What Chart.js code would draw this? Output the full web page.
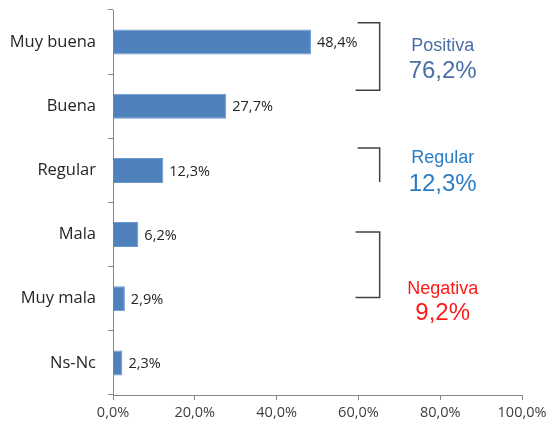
<!DOCTYPE html>
<html>
<head>
<meta charset="utf-8">
<script src="https://cdn.jsdelivr.net/npm/chart.js@4"></script>
<style>
  html, body { margin: 0; padding: 0; background: #fff; }
  #wrap { width: 546px; height: 423px; }
</style>
</head>
<body>
<div id="wrap"><canvas id="chart" width="546" height="423"></canvas></div>
<script>
const categories = ['Muy buena', 'Buena', 'Regular', 'Mala', 'Muy mala', 'Ns-Nc'];
const values = [48.4, 27.7, 12.3, 6.2, 2.9, 2.3];
const xTicks = [0, 20, 40, 60, 80, 100];
// grupos: etiqueta, total, color
const groupLabels = ['Positiva', 'Regular', 'Negativa'];
const groupTotals = ['76,2%', '12,3%', '9,2%'];
const groupColors = ['#4a6fa8', '#2a7cc7', '#ff1a1a'];

const fmt = v => v.toFixed(1).replace('.', ',') + '%';

// etiquetas de valor al final de cada barra
const valueLabels = {
  id: 'valueLabels',
  afterDatasetsDraw(chart) {
    const ctx = chart.ctx;
    const meta = chart.getDatasetMeta(0);
    ctx.save();
    ctx.font = '14.5px "Open Sans", sans-serif';
    ctx.fillStyle = '#262626';
    ctx.textBaseline = 'middle';
    ctx.textAlign = 'left';
    meta.data.forEach((bar, i) => {
      ctx.fillText(fmt(values[i]), bar.x + 6, bar.y + 1);
    });
    ctx.restore();
  }
};

// llaves y totales de cada grupo
const groupBrackets = {
  id: 'groupBrackets',
  afterDraw(chart) {
    const ctx = chart.ctx;
    const x = chart.scales.x;
    const y = chart.scales.y;
    const xv = x.getPixelForValue(65.2);
    const xs = x.getPixelForValue(59.8);
    const xt = x.getPixelForValue(80.6);
    ctx.save();
    ctx.strokeStyle = '#404040';
    ctx.lineWidth = 1.5;
    // Positiva
    let t = y.getPixelForValue(-0.3), b = y.getPixelForValue(0.75);
    ctx.beginPath();
    ctx.moveTo(xs, t); ctx.lineTo(xv, t); ctx.lineTo(xv, b); ctx.lineTo(xs - 2, b);
    ctx.stroke();
    // Regular
    t = y.getPixelForValue(1.65); b = y.getPixelForValue(2.18);
    ctx.beginPath();
    ctx.moveTo(xs, t); ctx.lineTo(xv, t); ctx.lineTo(xv, b);
    ctx.stroke();
    // Negativa
    t = y.getPixelForValue(2.96); b = y.getPixelForValue(3.98);
    ctx.beginPath();
    ctx.moveTo(xs - 2, t); ctx.lineTo(xv, t); ctx.lineTo(xv, b); ctx.lineTo(xs - 2, b);
    ctx.stroke();

    ctx.textAlign = 'center';
    ctx.textBaseline = 'middle';
    const rows = [[0.06, 0.46], [1.81, 2.22], [3.85, 4.23]];
    rows.forEach((r, i) => {
      ctx.fillStyle = groupColors[i];
      ctx.font = '18px "Liberation Sans", Arial, sans-serif';
      ctx.fillText(groupLabels[i], xt, y.getPixelForValue(r[0]));
      ctx.font = '24px "Liberation Sans", Arial, sans-serif';
      ctx.fillText(groupTotals[i], xt, y.getPixelForValue(r[1]));
    });
    ctx.restore();
  }
};

new Chart(document.getElementById('chart'), {
  type: 'bar',
  data: {
    labels: categories,
    datasets: [{
      data: values,
      backgroundColor: '#4f81bd',
      borderColor: '#6a97cc',
      borderWidth: 1,
      barPercentage: 0.39,
      categoryPercentage: 1
    }]
  },
  options: {
    indexAxis: 'y',
    responsive: false,
    animation: false,
    layout: { padding: { top: 10, right: 24, left: 0, bottom: 0 } },
    plugins: { legend: { display: false }, tooltip: { enabled: false } },
    scales: {
      x: {
        min: 0,
        max: 100,
        afterBuildTicks: s => { s.ticks = xTicks.map(v => ({ value: v })); },
        afterFit: s => { s.height = 28; s.paddingLeft = 0; s.paddingRight = 0; },
        border: { color: '#868686', width: 1 },
        grid: { drawOnChartArea: false, tickLength: 5, color: '#868686' },
        ticks: {
          color: '#404040',
          padding: 4,
          maxRotation: 0,
          font: { family: '"Open Sans", sans-serif', size: 14.5 },
          callback: v => v.toFixed(1).replace('.', ',') + '%'
        }
      },
      y: {
        offset: true,
        afterFit: s => { s.width = 113; s.paddingTop = 0; s.paddingBottom = 0; },
        border: { color: '#868686', width: 1 },
        grid: { offset: true, drawOnChartArea: false, tickLength: 5, color: '#868686' },
        ticks: {
          color: '#262626',
          padding: 12,
          font: { family: '"Open Sans", sans-serif', size: 16.5 }
        }
      }
    }
  },
  plugins: [valueLabels, groupBrackets]
});
</script>
</body>
</html>
